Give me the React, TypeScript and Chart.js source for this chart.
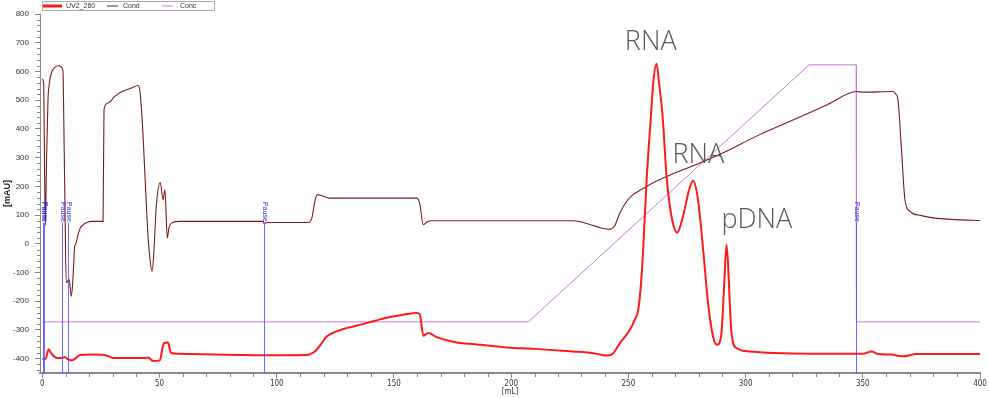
import { useEffect, useRef } from "react";
import { Chart, registerables } from "chart.js";

Chart.register(...registerables);

// ---- Data (mL, value) ----
const uvPoints: [number, number][] = [
  [0, -402], [1.5, -400], [2.2, -378], [2.7, -367], [3.5, -378], [5, -392], [6.7, -398], [8.5, -398],
  [9.5, -394], [10.5, -400], [12.4, -406], [14, -400], [16, -387], [20, -386], [26.6, -387], [30.2, -398],
  [43.7, -398], [45.1, -396], [47.2, -408], [50.1, -406], [51.2, -365], [51.9, -346], [53.6, -344],
  [54.8, -379], [57.9, -383], [83.5, -387], [94, -388], [112.7, -387], [115, -382], [117, -369],
  [119, -348], [121.3, -323], [125.5, -305], [130, -293], [136.9, -279], [142, -268], [148.3, -255],
  [154, -247], [159.7, -241], [161.1, -247], [162.5, -320], [164.6, -311], [168.2, -325], [176.7, -344],
  [182.4, -348], [198, -361], [210, -366], [226.4, -375], [235, -381], [240.7, -389], [243, -385],
  [246.4, -346], [250.6, -300], [252.7, -265], [254.2, -230], [255.4, -137], [256.3, -21], [257.7, 211],
  [259.6, 443], [260.6, 560], [262, 627], [263.1, 560], [264.6, 443], [266.3, 234], [268.4, 95],
  [270.8, 39], [273.3, 95], [275.9, 188], [277.6, 219], [279.7, 153], [281.9, -21], [284, -207],
  [286.1, -323], [287.9, -352], [289.7, -311], [290.4, -220], [290.9, -137], [291.9, -3], [292.9, -137],
  [293.5, -250], [294, -311], [296.1, -363], [301.8, -375], [306, -378], [320, -382], [343.6, -383],
  [350, -383], [353.7, -375], [356.6, -384], [362, -386], [367.2, -392], [372.9, -384], [400, -384],
];

const condPoints: [number, number][] = [
  [0, 574], [0.6, 554], [0.9, 300], [1.3, 65], [1.8, 300], [2.4, 500], [3, 560], [4.1, 600], [5.5, 615],
  [6.7, 620], [7.8, 618], [8.4, 612], [8.8, 600], [9.2, 400], [9.7, 100], [10.2, -136], [10.8, -130],
  [11.4, -125], [12.4, -183], [13.2, -100], [13.8, -9], [14.3, 0], [15.2, 31], [16.2, 55], [17.4, 66],
  [19, 74], [20.9, 78], [25.9, 78], [26.3, 467], [28, 490], [30.9, 513], [34, 530], [38, 542],
  [40.8, 551], [41.8, 520], [42.9, 386], [44, 200], [45.1, 25], [46, -60], [46.8, -96], [47.5, -40],
  [48.6, 130], [50.3, 213], [51.5, 153], [52.3, 188], [53.3, 20], [54, 55], [55, 72], [58, 78],
  [94.2, 78], [94.6, 70], [96, 74], [113.4, 74], [115, 90], [116.3, 150], [117.3, 171], [119, 168],
  [122.7, 159], [159.7, 159], [161, 140], [162.5, 66], [164, 76], [166.7, 80], [226.4, 80], [242.1, 50],
  [244, 60], [246.4, 107], [249.2, 147], [252, 171], [254.9, 186], [260, 210], [266.3, 234], [280.5, 281],
  [290, 315], [306, 380], [320, 430], [335, 485], [347.3, 530], [350, 528], [362.9, 530], [364, 522],
  [365, 502], [366.5, 327], [368, 153], [370.2, 112], [375, 98], [380, 90], [390, 84], [400, 81],
];

const concPoints: [number, number][] = [
  [0, -272], [207.3, -272], [327.1, 623], [347.2, 623], [347.3, -272], [400, -272],
];

const pauseMarks: number[] = [0.3, 0.6, 8.4, 10.8, 94.6, 347.3];
const pauseTop = 73;

const xTickValues: number[] = [0, 50, 100, 150, 200, 250, 300, 350, 400];
const yTickValues: number[] = [-400, -300, -200, -100, 0, 100, 200, 300, 400, 500, 600, 700, 800];

const annotations: { text: string; x: number; y: number }[] = [
  { text: "RNA", x: 248.5, y: 673 },
  { text: "RNA", x: 268.8, y: 281 },
  { text: "pDNA", x: 289.7, y: 55 },
];

const legendItems: { label: string; color: string; width: number }[] = [
  { label: "UV2_260", color: "#ff1a1a", width: 3 },
  { label: "Cond", color: "#7b1c1c", width: 1 },
  { label: "Conc", color: "#cc77dd", width: 1 },
];

const toXY = (pts: [number, number][]) => pts.map(([x, y]) => ({ x, y }));

const overlayPlugin = {
  id: "overlay",
  afterDatasetsDraw(chart: any) {
    const { ctx, chartArea, scales } = chart;
    const xs = scales.x;
    const ys = scales.y;
    ctx.save();
    // minor ticks
    ctx.strokeStyle = "#888";
    ctx.lineWidth = 1;
    ctx.beginPath();
    for (let v = 0; v <= 400; v += 10) {
      if (v % 50 === 0) continue;
      const px = Math.round(xs.getPixelForValue(v)) + 0.5;
      ctx.moveTo(px, chartArea.bottom);
      ctx.lineTo(px, chartArea.bottom + 4);
    }
    for (let v = -440; v <= 800; v += 20) {
      if (v % 100 === 0) continue;
      const py = Math.round(ys.getPixelForValue(v)) + 0.5;
      ctx.moveTo(chartArea.left - 3, py);
      ctx.lineTo(chartArea.left, py);
    }
    ctx.stroke();

    // pause markers
    ctx.font = '7px "Liberation Sans", Arial, sans-serif';
    for (const m of pauseMarks) {
      const px = Math.round(xs.getPixelForValue(m)) + 0.5;
      const top = ys.getPixelForValue(pauseTop);
      ctx.strokeStyle = "rgba(80,80,255,0.85)";
      ctx.lineWidth = 1;
      ctx.beginPath();
      ctx.moveTo(px, top);
      ctx.lineTo(px, chartArea.bottom);
      ctx.stroke();
      ctx.save();
      ctx.translate(px, top - 1);
      ctx.rotate(Math.PI / 2);
      ctx.fillStyle = "#2a2ae0";
      ctx.textAlign = "right";
      ctx.textBaseline = "middle";
      ctx.fillText("Pause", 0, 0);
      ctx.restore();
    }

    // annotations
    ctx.fillStyle = "#595959";
    ctx.font = '300 27px "Open Sans", "Noto Sans", sans-serif';
    ctx.textAlign = "left";
    ctx.textBaseline = "alphabetic";
    for (const a of annotations) {
      ctx.fillText(a.text, xs.getPixelForValue(a.x), ys.getPixelForValue(a.y));
    }

    // legend
    ctx.strokeStyle = "#aaa";
    ctx.lineWidth = 1;
    ctx.strokeRect(42.5, 1.5, 172, 9);
    const lx = [43, 107, 162];
    const tx = [66, 123, 180];
    ctx.font = '7px "Liberation Sans", Arial, sans-serif';
    ctx.textBaseline = "middle";
    legendItems.forEach((it, i) => {
      ctx.strokeStyle = it.color;
      ctx.lineWidth = it.width;
      ctx.beginPath();
      ctx.moveTo(lx[i], 6);
      ctx.lineTo(lx[i] + (i === 0 ? 19 : 11), 6);
      ctx.stroke();
      ctx.fillStyle = "#333";
      ctx.fillText(it.label, tx[i], 6.5);
    });
    ctx.restore();
  },
};

export default function App() {
  const ref = useRef<HTMLCanvasElement>(null);
  useEffect(() => {
    const chart = new Chart(ref.current!, {
      type: "line",
      data: {
        datasets: [
          {
            label: "UV2_260",
            data: toXY(uvPoints),
            borderColor: "#ff1a1a",
            borderWidth: 2,
            pointRadius: 0,
            cubicInterpolationMode: "monotone",
          },
          {
            label: "Cond",
            data: toXY(condPoints),
            borderColor: "#7b1c1c",
            borderWidth: 1.1,
            pointRadius: 0,
            cubicInterpolationMode: "monotone",
          },
          {
            label: "Conc",
            data: toXY(concPoints),
            borderColor: "#cc77dd",
            borderWidth: 1,
            pointRadius: 0,
            tension: 0,
          },
        ],
      },
      options: {
        animation: false,
        responsive: true,
        maintainAspectRatio: false,
        layout: { padding: { top: 14, right: 9, left: 0, bottom: 0 } },
        plugins: { legend: { display: false }, tooltip: { enabled: false } },
        scales: {
          x: {
            type: "linear",
            min: -1,
            max: 400,
            afterBuildTicks: (s: any) => {
              s.ticks = xTickValues.map((v) => ({ value: v }));
            },
            afterFit: (s: any) => {
              s.height = 25;
            },
            ticks: {
              autoSkip: false,
              maxRotation: 0,
              padding: 1,
              color: "#333",
              font: { size: 8, family: '"Liberation Sans Narrow", "DejaVu Sans Condensed", "Liberation Sans", sans-serif' },
            },
            grid: { drawOnChartArea: false, drawTicks: true, tickLength: 5, color: "#888" },
            border: { display: true, color: "#888", width: 2 },
            title: {
              display: true,
              text: "[mL]",
              color: "#333",
              padding: { top: 0, bottom: 1 },
              font: { size: 8, family: '"Liberation Sans Narrow", "DejaVu Sans Condensed", "Liberation Sans", sans-serif' },
            },
          },
          y: {
            type: "linear",
            min: -450,
            max: 800,
            afterBuildTicks: (s: any) => {
              s.ticks = yTickValues.map((v) => ({ value: v }));
            },
            afterFit: (s: any) => {
              s.width = 40;
            },
            ticks: {
              padding: 6,
              color: "#333",
              font: { size: 8, family: '"Liberation Sans", Arial, sans-serif' },
            },
            grid: { drawOnChartArea: false, drawTicks: true, tickLength: 5, color: "#888" },
            border: { display: true, color: "#888", width: 1 },
            title: {
              display: true,
              text: "[mAU]",
              color: "#222",
              padding: { top: 2, bottom: 0 },
              font: { size: 9, weight: "bold", family: '"Liberation Sans", Arial, sans-serif' },
            },
          },
        },
      },
      plugins: [overlayPlugin],
    } as any);
    return () => chart.destroy();
  }, []);
  return (
    <div style={{ position: "fixed", left: 0, top: 0, width: 989, height: 398, background: "#fff" }}>
      <canvas ref={ref} />
    </div>
  );
}
